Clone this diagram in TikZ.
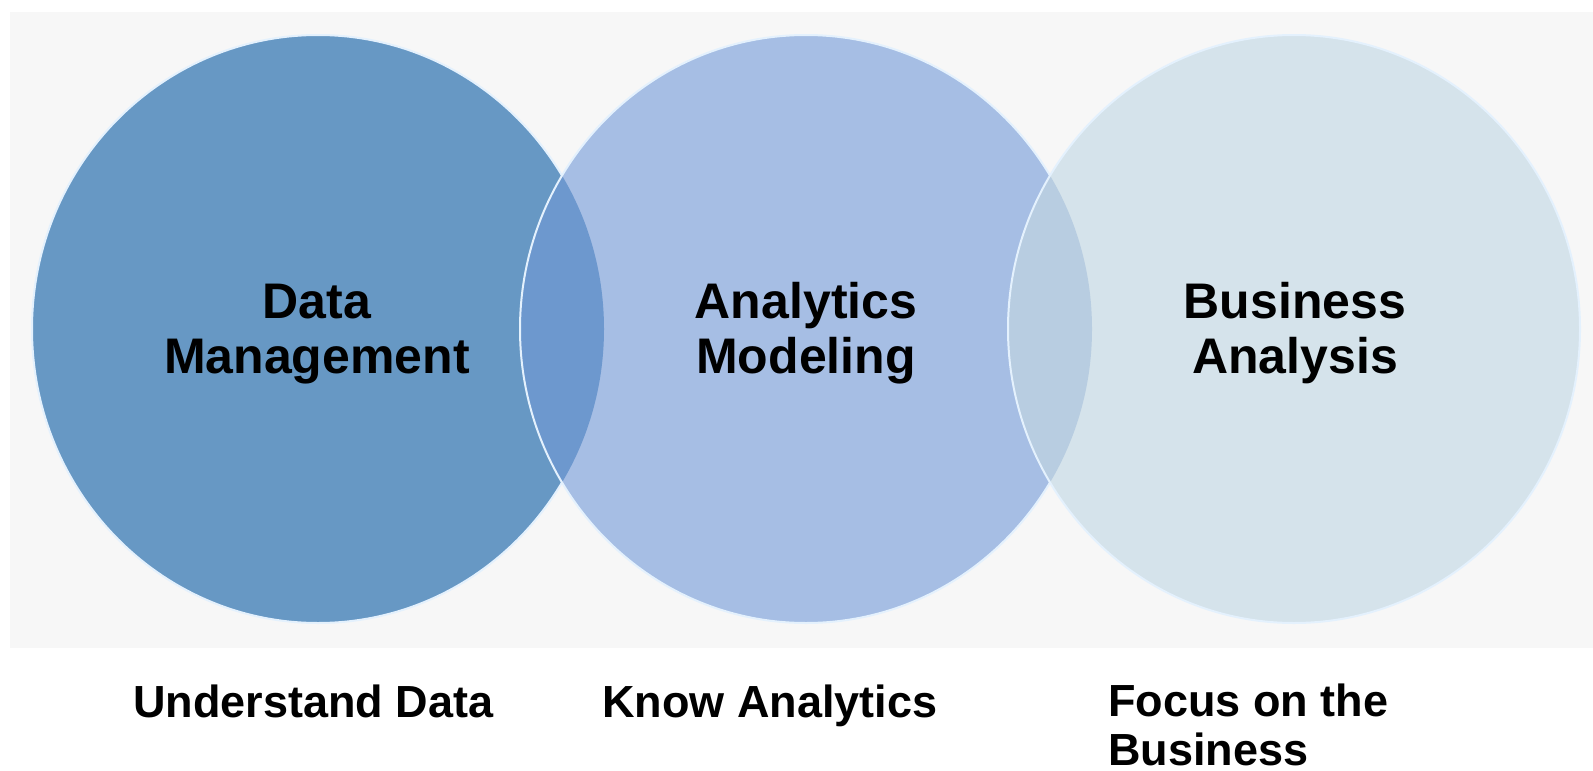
\documentclass[tikz,border=0pt]{standalone}
\usepackage{fontspec}
\setmainfont{Liberation Sans}
\definecolor{panel}{HTML}{F7F7F7}
\definecolor{cone}{HTML}{6798C4}
\definecolor{ctwo}{HTML}{A6BEE4}
\definecolor{cthree}{HTML}{D5E3EB}
\definecolor{lensa}{HTML}{6D98CE}
\definecolor{lensb}{HTML}{B8CDE1}
\definecolor{rim}{HTML}{E4F1FD}
\tikzset{
  heading/.style={anchor=base, align=center, font=\bfseries\fontsize{50}{55}\selectfont, text=black, inner sep=0pt},
  caption/.style={anchor=base west, align=left, font=\bfseries\fontsize{45}{49}\selectfont, text=black, inner sep=0pt},
  rimline/.style={draw=rim, line width=2pt}
}
\begin{document}
\begin{tikzpicture}[x=1pt,y=-1pt]
\useasboundingbox (0,0) rectangle (1593,771);
\fill[white] (0,0) rectangle (1593,771);
\fill[panel] (10,12) rectangle (1593,648);
\coordinate (p1) at (318,329);
\coordinate (p2) at (806,329);
\coordinate (p3) at (1294,329);
% circle 1
\fill[cone] (p1) ellipse [x radius=286, y radius=294];
\draw[rimline] (p1) ellipse [x radius=286, y radius=294];
% circle 2
\fill[ctwo] (p2) ellipse [x radius=286, y radius=294];
\begin{scope}
  \clip (p1) ellipse [x radius=286, y radius=294];
  \fill[lensa] (p2) ellipse [x radius=286, y radius=294];
\end{scope}
\draw[rimline] (p2) ellipse [x radius=286, y radius=294];
% circle 3
\fill[cthree] (p3) ellipse [x radius=286, y radius=294];
\begin{scope}
  \clip (p2) ellipse [x radius=286, y radius=294];
  \fill[lensb] (p3) ellipse [x radius=286, y radius=294];
\end{scope}
\draw[rimline] (p3) ellipse [x radius=286, y radius=294];
% headings
\node[heading] (dm) at (317,373) {Data\\Management};
\node[heading] (am) at (806,373) {Analytics\\Modeling};
\node[heading] (ba) at (1295,373) {Business\\Analysis};
% captions
\node[caption] (ud) at (133,717) {Understand Data};
\node[caption] (ka) at (602,717) {Know Analytics};
\node[caption] (fb) at (1108,765) {Focus on the\\Business};
\end{tikzpicture}
\end{document}
